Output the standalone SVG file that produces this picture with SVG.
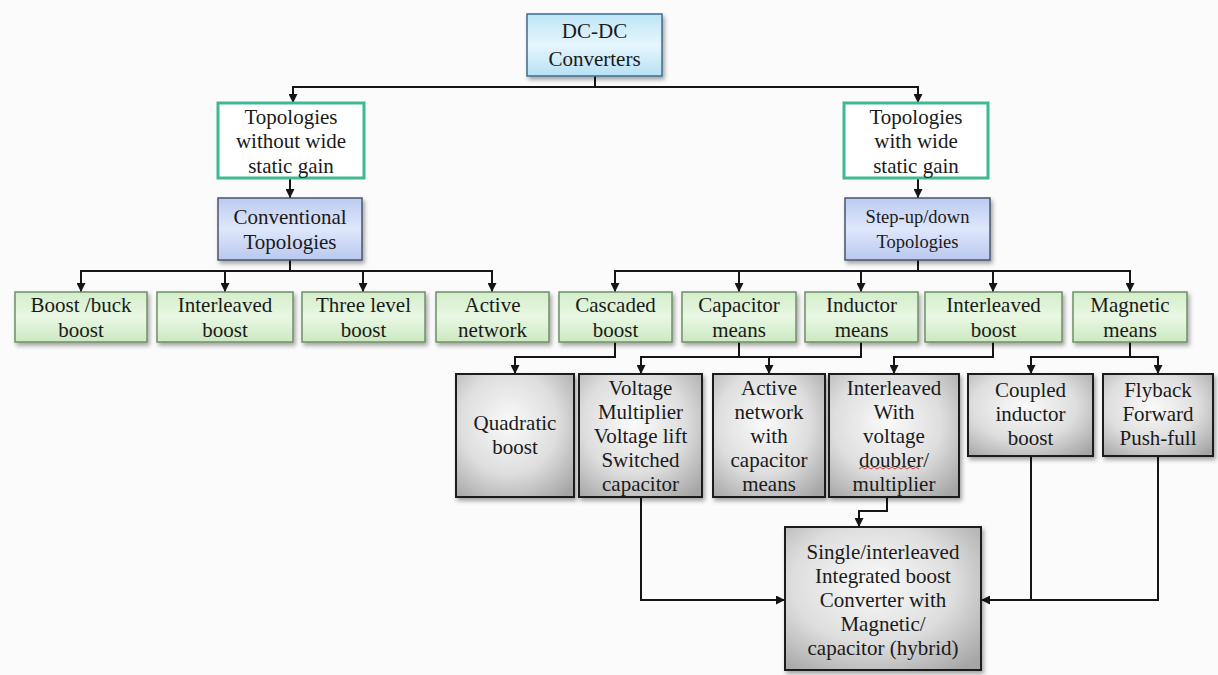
<svg xmlns="http://www.w3.org/2000/svg" width="1218" height="675" viewBox="0 0 1218 675">
<defs>
<style>
text{font-family:"Liberation Serif","Times New Roman",serif;font-size:21px;fill:#1a1a1a;text-anchor:middle;dominant-baseline:central}
.green{fill:url(#gGreen);stroke:#6f8f68;stroke-width:1.5;filter:url(#sh)}
.gray{fill:url(#gGray);stroke:#1e1e1e;stroke-width:2;filter:url(#sh)}
.blue{fill:url(#gBlue);stroke:#4a566e;stroke-width:1.5;filter:url(#sh)}
.cyan{fill:url(#gCyan);stroke:#3d6c8e;stroke-width:1.5;filter:url(#sh)}
.teal{fill:#ffffff;stroke:#3fb894;stroke-width:3}
.conn path{fill:none;stroke:#151515;stroke-width:2}
.arr{marker-end:url(#ah)}
</style>
<linearGradient id="gGreen" x1="0" y1="0" x2="0" y2="1">
<stop offset="0" stop-color="#d3eec9"/><stop offset="0.5" stop-color="#e9f7e4"/><stop offset="1" stop-color="#cbe9c0"/>
</linearGradient>
<radialGradient id="gGray" cx="0.45" cy="0.4" r="0.75">
<stop offset="0" stop-color="#fafafa"/><stop offset="0.55" stop-color="#dedede"/><stop offset="1" stop-color="#a5a5a5"/>
</radialGradient>
<linearGradient id="gBlue" x1="0" y1="0" x2="0" y2="1">
<stop offset="0" stop-color="#bccbf1"/><stop offset="0.5" stop-color="#dfe7fb"/><stop offset="1" stop-color="#b9c8ef"/>
</linearGradient>
<linearGradient id="gCyan" x1="0" y1="0" x2="0" y2="1">
<stop offset="0" stop-color="#bde5f7"/><stop offset="0.5" stop-color="#e6f6fd"/><stop offset="1" stop-color="#b7e0f4"/>
</linearGradient>
<filter id="sh" x="-10%" y="-10%" width="125%" height="130%">
<feDropShadow dx="2" dy="3" stdDeviation="2" flood-color="#000" flood-opacity="0.35"/>
</filter>
<marker id="ah" viewBox="0 0 10 10" refX="10" refY="5" markerWidth="9" markerHeight="9" markerUnits="userSpaceOnUse" orient="auto">
<path d="M0,0 L10,5 L0,10 z" fill="#151515"/>
</marker>
</defs>
<rect width="1218" height="675" fill="#fbfbfb"/>

<g id="connectors" class="conn">
<path d="M595,76 V87 H293 V103" class="arr"/>
<path d="M595,87 H918 V103" class="arr"/>
<path d="M290,178 V198" class="arr"/>
<path d="M918,178 V198" class="arr"/>
<path d="M290,260 V271 H81 V292" class="arr"/>
<path d="M225,271 V292" class="arr"/>
<path d="M363,271 V292" class="arr"/>
<path d="M290,271 H492 V292" class="arr"/>
<path d="M918,260 V271 H615 V292" class="arr"/>
<path d="M739,271 V292" class="arr"/>
<path d="M861,271 V292" class="arr"/>
<path d="M993,271 V292" class="arr"/>
<path d="M918,271 H1130 V292" class="arr"/>
<path d="M615,342 V357 H515 V374" class="arr"/>
<path d="M739,342 V357 H641 V374" class="arr"/>
<path d="M739,357 H769 V374" class="arr"/>
<path d="M861,342 V357 H739"/>
<path d="M993,342 V357 H894 V374" class="arr"/>
<path d="M1130,342 V357 H1031 V374" class="arr"/>
<path d="M1130,357 H1158 V374" class="arr"/>
<path d="M641,497 V600 H785" class="arr"/>
<path d="M887,497 V511 H859 V527" class="arr"/>
<path d="M1031,456 V600 H981" class="arr"/>
<path d="M1158,456 V600 H1031"/>
</g>

<g id="dcdc">
<rect x="527" y="14" width="135" height="62" class="cyan"/>
<text x="594.5" y="31">DC-DC</text>
<text x="594.5" y="59">Converters</text>
</g>

<g id="without-wide">
<rect x="218" y="103" width="146" height="75" class="teal"/>
<text x="291" y="117">Topologies</text>
<text x="291" y="141">without wide</text>
<text x="291" y="166">static gain</text>
</g>
<g id="with-wide">
<rect x="844" y="103" width="144" height="75" class="teal"/>
<text x="916" y="117">Topologies</text>
<text x="916" y="141">with wide</text>
<text x="916" y="166">static gain</text>
</g>

<g id="conventional">
<rect x="218" y="198" width="144" height="62" class="blue"/>
<text x="290" y="217">Conventional</text>
<text x="290" y="242">Topologies</text>
</g>
<g id="stepupdown">
<rect x="845" y="198" width="145" height="62" class="blue"/>
<text x="917.5" y="217" style="font-size:18.5px">Step-up/down</text>
<text x="917.5" y="242" style="font-size:18.5px">Topologies</text>
</g>

<g id="boost-buck">
<rect x="15" y="292" width="132" height="50" class="green"/>
<text x="81" y="305">Boost /buck</text>
<text x="81" y="330">boost</text>
</g>
<g id="interleaved-boost-1">
<rect x="157" y="292" width="136" height="50" class="green"/>
<text x="225" y="305">Interleaved</text>
<text x="225" y="330">boost</text>
</g>
<g id="three-level">
<rect x="302" y="292" width="123" height="50" class="green"/>
<text x="363.5" y="305">Three level</text>
<text x="363.5" y="330">boost</text>
</g>
<g id="active-network">
<rect x="436" y="292" width="113" height="50" class="green"/>
<text x="492.5" y="305">Active</text>
<text x="492.5" y="330">network</text>
</g>
<g id="cascaded">
<rect x="559" y="292" width="113" height="50" class="green"/>
<text x="615.5" y="305">Cascaded</text>
<text x="615.5" y="330">boost</text>
</g>
<g id="capacitor-means">
<rect x="682" y="292" width="114" height="50" class="green"/>
<text x="739" y="305">Capacitor</text>
<text x="739" y="330">means</text>
</g>
<g id="inductor-means">
<rect x="805" y="292" width="113" height="50" class="green"/>
<text x="861.5" y="305">Inductor</text>
<text x="861.5" y="330">means</text>
</g>
<g id="interleaved-boost-2">
<rect x="925" y="292" width="137" height="50" class="green"/>
<text x="993.5" y="305">Interleaved</text>
<text x="993.5" y="330">boost</text>
</g>
<g id="magnetic-means">
<rect x="1073" y="292" width="114" height="50" class="green"/>
<text x="1130" y="305">Magnetic</text>
<text x="1130" y="330">means</text>
</g>

<g id="quadratic">
<rect x="456" y="374" width="118" height="123" class="gray"/>
<text x="515" y="423">Quadratic</text>
<text x="515" y="447">boost</text>
</g>
<g id="voltage-multiplier">
<rect x="579" y="374" width="123" height="123" class="gray"/>
<text x="640.5" y="388">Voltage</text>
<text x="640.5" y="412">Multiplier</text>
<text x="640.5" y="436">Voltage lift</text>
<text x="640.5" y="460">Switched</text>
<text x="640.5" y="484">capacitor</text>
</g>
<g id="active-capacitor">
<rect x="713" y="374" width="112" height="123" class="gray"/>
<text x="769" y="388">Active</text>
<text x="769" y="412">network</text>
<text x="769" y="436">with</text>
<text x="769" y="460">capacitor</text>
<text x="769" y="484">means</text>
</g>
<g id="interleaved-doubler">
<rect x="829" y="374" width="130" height="123" class="gray"/>
<text x="894" y="388">Interleaved</text>
<text x="894" y="412">With</text>
<text x="894" y="436">voltage</text>
<text x="894" y="460">doubler/</text>
<text x="894" y="484">multiplier</text>
<path d="M859,469 l3,-2 l3,2 l3,-2 l3,2 l3,-2 l3,2 l3,-2 l3,2 l3,-2 l3,2 l3,-2 l3,2 l3,-2 l3,2 l3,-2 l3,2 l3,-2 l3,2 l3,-2 l3,2" fill="none" stroke="#e23a3a" stroke-width="1"/>
</g>
<g id="coupled-inductor">
<rect x="968" y="374" width="125" height="82" class="gray"/>
<text x="1030.5" y="390">Coupled</text>
<text x="1030.5" y="414">inductor</text>
<text x="1030.5" y="438">boost</text>
</g>
<g id="flyback">
<rect x="1103" y="374" width="110" height="82" class="gray"/>
<text x="1158" y="390">Flyback</text>
<text x="1158" y="414">Forward</text>
<text x="1158" y="438">Push-full</text>
</g>

<g id="integrated">
<rect x="785" y="527" width="196" height="143" class="gray"/>
<text x="883" y="552">Single/interleaved</text>
<text x="883" y="576">Integrated boost</text>
<text x="883" y="600">Converter with</text>
<text x="883" y="624">Magnetic/</text>
<text x="883" y="648">capacitor (hybrid)</text>
</g>
</svg>
